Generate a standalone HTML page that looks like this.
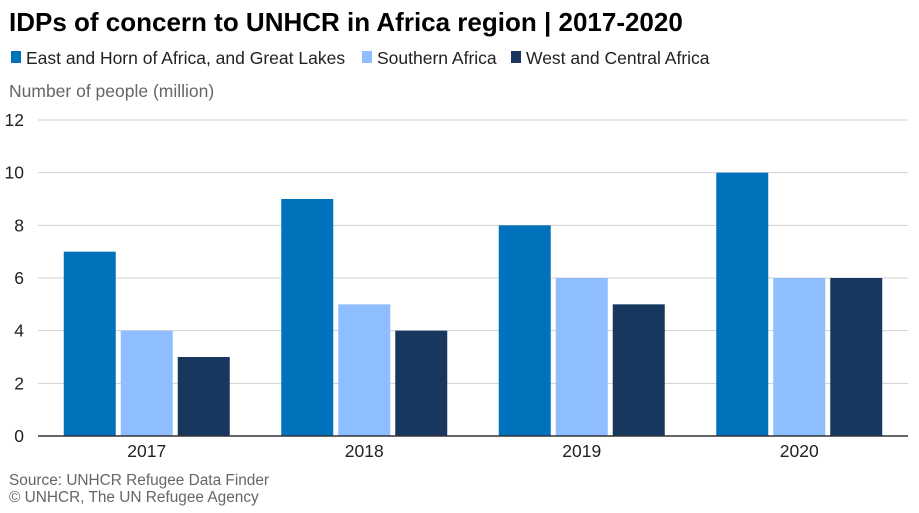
<!DOCTYPE html>
<html><head><meta charset="utf-8">
<style>
body{margin:0;background:#fff;font-family:"Liberation Sans",Arial,sans-serif;}
#wrap{position:relative;width:919px;height:513px;overflow:hidden;}
</style></head>
<body>
<div id="wrap">
<svg id="chart" width="919" height="513" xmlns="http://www.w3.org/2000/svg">
<text x="9" y="31" font-size="26" font-weight="bold" fill="#000">IDPs of concern to UNHCR in Africa region | 2017-2020</text>
<g>
<g><rect x="11" y="51" width="10" height="12" fill="#0072BC"/><text x="26" y="64" font-size="17.5" fill="#222">East and Horn of Africa, and Great Lakes</text></g>
<g><rect x="362" y="51" width="10" height="12" fill="#8EBEFF"/><text x="377" y="64" font-size="17.5" fill="#222">Southern Africa</text></g>
<g><rect x="511" y="51" width="10" height="12" fill="#18375F"/><text x="526" y="64" font-size="17.5" fill="#222">West and Central Africa</text></g>
</g>
<text x="9" y="97" font-size="17.5" fill="#666">Number of people (million)</text>
<g id="grid"></g><g id="bars"></g><g id="xlabels"></g>
<text x="9" y="485" font-size="15.4" fill="#666">Source: UNHCR Refugee Data Finder</text>
<text x="9" y="502" font-size="15.4" fill="#666">© UNHCR, The UN Refugee Agency</text>
</svg>
</div>
<script>
const categories = ["2017","2018","2019","2020"];
const eastValues = [7,9,8,10];
const southernValues = [4,5,6,6];
const westValues = [3,4,5,6];
const yTicks = [0,2,4,6,8,10,12];
const seriesColors = ["#0072BC","#8EBEFF","#18375F"];
const seriesNames = ["east","southern","west"];

const NS="http://www.w3.org/2000/svg";
const x0=38,x1=908,yBase=436,yTop=120,yMax=12;
const y=v=>yBase-(v/yMax)*(yBase-yTop);
const band=(x1-x0)/categories.length;
const bw=52,gap=5,pad=(band-3*bw-2*gap)/2;
function mk(tag,attrs,parent){const e=document.createElementNS(NS,tag);for(const k in attrs)e.setAttribute(k,attrs[k]);parent.appendChild(e);return e;}
const grid=document.getElementById('grid'),bars=document.getElementById('bars'),xl=document.getElementById('xlabels');
yTicks.forEach(t=>{
  if(t>0){const l=mk('line',{x1:x0,x2:x1,y1:y(t),y2:y(t),stroke:'#d0d0d0','stroke-width':1},grid);
  
  }
  const tx=mk('text',{x:24,y:y(t)+6,'font-size':17.5,fill:'#222','text-anchor':'end'},grid);
  tx.textContent=t;
  
  
});
const series=[eastValues,southernValues,westValues];
categories.forEach((c,i)=>{
  series.forEach((s,j)=>{
    const bx=x0+i*band+pad+j*(bw+gap);
    const r=mk('rect',{x:bx,y:y(s[i]),width:bw,height:yBase-y(s[i]),fill:seriesColors[j]},bars);
    
    
  });
  const t=mk('text',{x:x0+i*band+band/2,y:457,'font-size':17.5,fill:'#222','text-anchor':'middle'},xl);
  t.textContent=c;
  
  
});
const ax=mk('line',{x1:x0,x2:x1,y1:yBase,y2:yBase,stroke:'#333','stroke-width':1.5},xl);


</script>
</body></html>
